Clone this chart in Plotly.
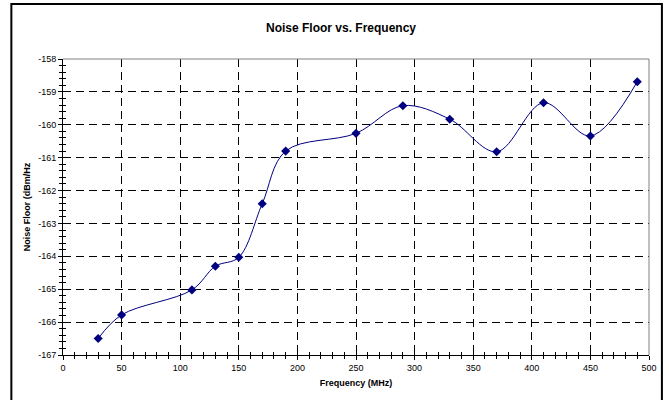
import plotly.graph_objects as go

# Measured noise floor across frequency
frequency_mhz = [30, 50, 110, 130, 150, 170, 190, 250, 290, 330, 370, 410, 450, 490]
noise_floor_dbm_hz = [-166.5, -165.78, -165.02, -164.3, -164.03, -162.4, -160.8,
                      -160.26, -159.42, -159.83, -160.82, -159.33, -160.34, -158.69]

x_ticks = list(range(0, 501, 50))
y_ticks = list(range(-167, -157, 1))
y_tick_text = [str(v) for v in y_ticks]  # plain hyphen minus signs

W, H = 669, 400
L, R, T, B = 63, 16, 59, 45
pw, ph = W - L - R, H - T - B

font = "Liberation Sans, Arial, sans-serif"
navy = "#000080"

fig = go.Figure()
fig.add_trace(go.Scatter(
    x=frequency_mhz, y=noise_floor_dbm_hz,
    mode="lines+markers",
    line=dict(color=navy, width=1, shape="spline", smoothing=1),
    marker=dict(symbol="diamond", size=7, color=navy),
    showlegend=False,
))

grid = dict(showgrid=True, gridcolor="#000000", gridwidth=1, griddash="8px,5px")

fig.update_layout(
    width=W, height=H,
    margin=dict(l=L, r=R, t=T, b=B),
    paper_bgcolor="white", plot_bgcolor="white",
    font=dict(family=font, size=9, color="black"),
    title=dict(text="<b>Noise Floor vs. Frequency</b>", x=341 / W, xanchor="center",
               y=1 - 28 / H, yanchor="middle", font=dict(size=12, family=font)),
    xaxis=dict(range=[0, 500], tickvals=x_ticks, ticks="outside", ticklen=4,
               tickcolor="black", showline=True, linecolor="black", linewidth=1,
               minor=dict(dtick=10, ticks="outside", ticklen=3, tickcolor="black"),
               zeroline=False, tickfont=dict(size=9), **grid,
               title=dict(text="<b>Frequency (MHz)</b>", font=dict(size=9), standoff=7)),
    yaxis=dict(range=[-167, -158], tickvals=y_ticks, ticktext=y_tick_text,
               ticks="outside", ticklen=4,
               tickcolor="black", showline=True, linecolor="black", linewidth=1,
               minor=dict(dtick=0.2, ticks="outside", ticklen=3, tickcolor="black"),
               zeroline=False, tickfont=dict(size=9), **grid),
    # mirror axes to draw the inward half of each tick mark
    xaxis2=dict(range=[0, 500], overlaying="x", side="bottom", tickvals=x_ticks,
                ticks="inside", ticklen=4, tickcolor="black", showticklabels=False,
                minor=dict(dtick=10, ticks="inside", ticklen=3, tickcolor="black"),
                showgrid=False, zeroline=False, showline=False),
    yaxis2=dict(range=[-167, -158], overlaying="y", side="left", tickvals=y_ticks,
                ticks="inside", ticklen=4, tickcolor="black", showticklabels=False,
                minor=dict(dtick=0.2, ticks="inside", ticklen=3, tickcolor="black"),
                showgrid=False, zeroline=False, showline=False),
)

# keep the mirror axes rendered
fig.add_trace(go.Scatter(x=[None], y=[None], xaxis="x2", yaxis="y2",
                         showlegend=False, hoverinfo="skip"))

# y-axis title
fig.add_annotation(text="<b>Noise Floor (dBm/Hz</b>", textangle=-90,
                   xref="paper", yref="paper", x=(27 - L) / pw, y=0.5,
                   xanchor="center", yanchor="middle", showarrow=False,
                   font=dict(size=9, family=font))

# gray plot-area frame (top and right edges)
fig.add_shape(type="line", xref="paper", yref="paper", x0=0, x1=1, y0=1, y1=1,
              line=dict(color="#808080", width=1), layer="above")
fig.add_shape(type="line", xref="paper", yref="paper", x0=1, x1=1, y0=0, y1=1,
              line=dict(color="#808080", width=1), layer="above")

# outer chart border
fig.add_shape(type="rect", xref="paper", yref="paper",
              x0=(11 - L) / pw, x1=(666 - L) / pw,
              y0=(H - B - 403) / ph, y1=(H - B - 4) / ph,
              line=dict(color="black", width=2), layer="above")

fig.write_html("out.html")
